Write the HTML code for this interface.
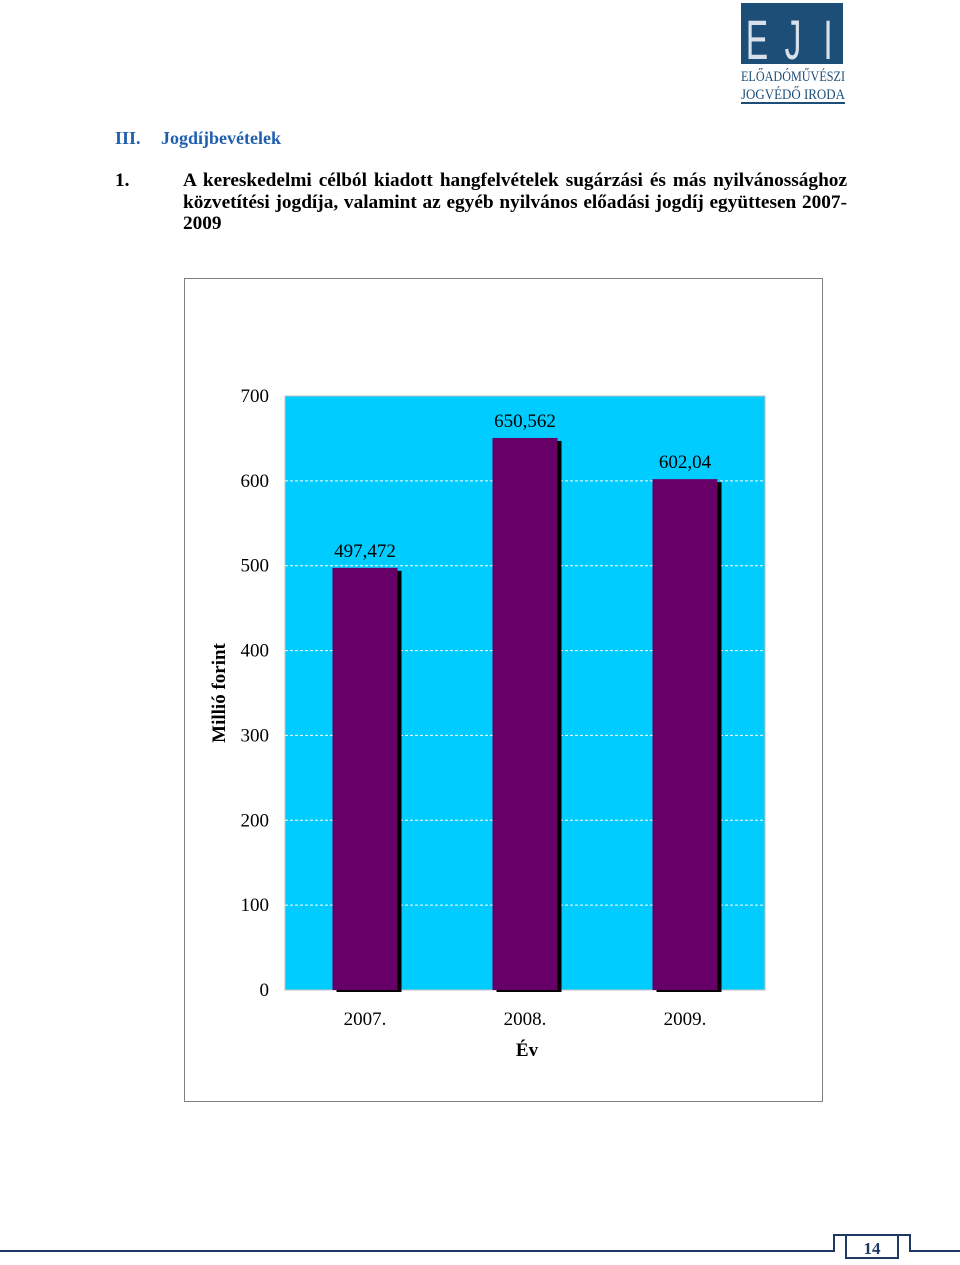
<!DOCTYPE html>
<html><head><meta charset="utf-8">
<style>
body{margin:0;width:960px;height:1265px;background:#fff;position:relative;overflow:hidden;font-family:"Liberation Serif",serif}
.abs{position:absolute}
.jl{text-align:justify;text-align-last:justify;white-space:nowrap}
</style></head><body>
<div class="abs" style="left:741px;top:3px;width:104px;height:100px">
 <div style="position:absolute;left:0;top:0;width:102px;height:61px;background:#1d4e78;"></div>
 <svg style="position:absolute;left:0;top:0" width="104" height="102">
  <g font-family="Liberation Sans" font-size="56" fill="#d8e0ea" text-anchor="middle">
   <text x="0" y="0" transform="translate(16,56) scale(0.6,1)">E</text>
   <text x="0" y="0" transform="translate(52,56) scale(0.6,1)">J</text>
   <text x="0" y="0" transform="translate(87,56) scale(0.6,1)">I</text>
  </g>
  <text x="0" y="78" font-family="Liberation Serif" font-size="15" fill="#1d4e78" textLength="104" lengthAdjust="spacingAndGlyphs">ELŐADÓMŰVÉSZI</text>
  <text x="0" y="96" font-family="Liberation Serif" font-size="15" fill="#1d4e78" textLength="104" lengthAdjust="spacingAndGlyphs">JOGVÉDŐ IRODA</text>
  <rect x="0" y="99" width="104" height="2" fill="#1d4e78"/>
 </svg>
</div>
<div class="abs" style="left:115px;top:128px;font-weight:bold;font-size:18px;color:#1f5fb0">III.<span style="position:absolute;left:46px;white-space:nowrap">Jogdíjbevételek</span></div>
<div class="abs" style="left:115px;top:170px;width:732px;font-weight:bold;font-size:19.3px;line-height:21.5px;color:#000">
 <span style="position:absolute;left:0">1.</span>
 <div style="margin-left:68px">
  <div class="jl">A kereskedelmi célból kiadott hangfelvételek sugárzási és más nyilvánossághoz</div>
  <div class="jl">közvetítési jogdíja, valamint az egyéb nyilvános előadási jogdíj együttesen 2007-</div>
  <div>2009</div>
 </div>
</div>
<svg class="abs" style="left:0;top:0" width="960" height="1265">
 <rect x="184.5" y="278.5" width="638" height="823" fill="#fff" stroke="#808080"/>
 <g id="g"></g>
 <g fill="none" stroke="#1f3864" stroke-width="2">
  <path d="M0 1251 H834 V1235 H910 V1251 H960"/>
  <rect x="846" y="1235" width="52" height="23" fill="#fff"/>
 </g>
 <text x="872" y="1254" text-anchor="middle" font-size="17" font-weight="bold" fill="#1f3864" font-family="Liberation Serif">14</text>
</svg>
<script>
const categories=["2007.","2008.","2009."];
const values=[497.472,650.562,602.04];
const valueLabels=["497,472","650,562","602,04"];
const ticks=[0,100,200,300,400,500,600,700];
const NS="http://www.w3.org/2000/svg";
const g=document.getElementById('g');
const L=285,R=765,T=396,B=990,max=700;
const y=v=>B-(v/max)*(B-T);
const bw=(R-L)/categories.length;
const x=i=>L+bw*(i+0.5);
function mk(t,a,txt){const e=document.createElementNS(NS,t);for(const k in a)e.setAttribute(k,a[k]);if(txt!==undefined)e.textContent=txt;g.appendChild(e);return e;}
let e=mk('rect',{x:L,y:T,width:R-L,height:B-T,fill:'#00ccff',stroke:'#c0c0c0'});


ticks.forEach(t=>{
 if(t>0&&t<max){const l=mk('line',{x1:L,x2:R,y1:y(t),y2:y(t),stroke:'#fff','stroke-dasharray':'3,2','stroke-width':1});
 
 }
 const tx=mk('text',{x:269,y:y(t)+6,'text-anchor':'end','font-size':19,fill:'#000','font-family':'Liberation Serif'},String(t));
 
 
});
categories.forEach((c,i)=>{
 const w=65,cx=x(i),top=y(values[i]);
 const s=mk('rect',{x:cx-w/2+4,y:top+3,width:w,height:B-top-1,fill:'#000'});
 
 
 const b=mk('rect',{x:cx-w/2,y:top,width:w,height:B-top,fill:'#660066'});
 
 
 const v=mk('text',{x:cx,y:top-11,'text-anchor':'middle','font-size':19,fill:'#000','font-family':'Liberation Serif'},valueLabels[i]);
 
 
 const xl=mk('text',{x:cx,y:1025,'text-anchor':'middle','font-size':19,fill:'#000','font-family':'Liberation Serif'},c);
 
 
});
let xt=mk('text',{x:527,y:1056,'text-anchor':'middle','font-size':19,'font-weight':'bold',fill:'#000','font-family':'Liberation Serif'},'Év');


let yt=mk('text',{x:0,y:0,transform:'translate(225,693) rotate(-90)','text-anchor':'middle','font-size':19,'font-weight':'bold',fill:'#000','font-family':'Liberation Serif'},'Millió forint');


</script>
</body></html>
